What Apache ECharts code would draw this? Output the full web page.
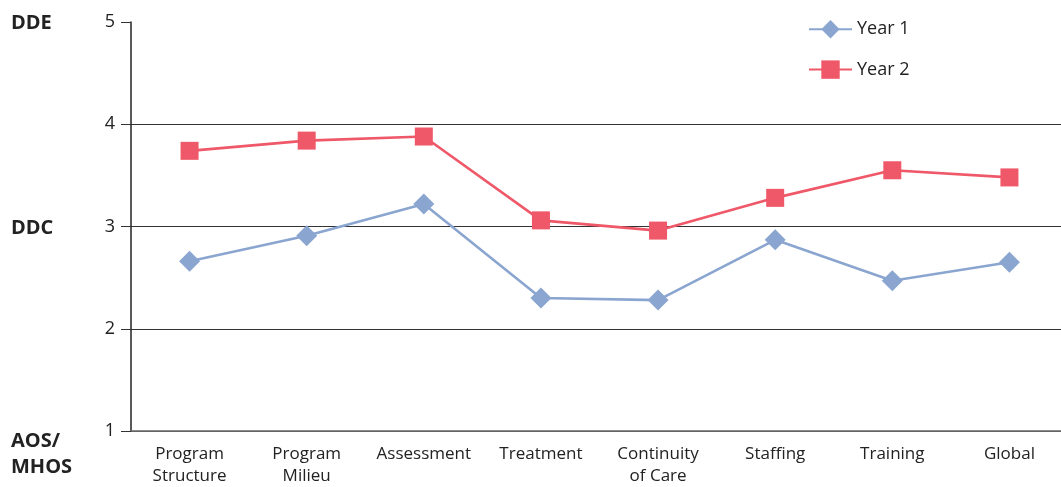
<!DOCTYPE html>
<html>
<head>
<meta charset="utf-8">
<script src="https://cdn.jsdelivr.net/npm/echarts@6/dist/echarts.min.js"></script>
<style>
  html, body { margin: 0; padding: 0; background: #fff; overflow: hidden; }
  #chart { width: 1070px; height: 487px; }
</style>
</head>
<body>
<div id="chart"></div>
<script>
var categories = ['Program\nStructure', 'Program\nMilieu', 'Assessment', 'Treatment', 'Continuity\nof Care', 'Staffing', 'Training', 'Global'];
var year1 = [2.66, 2.91, 3.22, 2.30, 2.28, 2.87, 2.47, 2.65];
var year2 = [3.74, 3.84, 3.88, 3.06, 2.96, 3.28, 3.55, 3.48];
var levelLabels = { 5: 'DDE', 3: 'DDC', 1: 'AOS/\nMHOS' };

var myChart = echarts.init(document.getElementById('chart'), null, { renderer: 'canvas' });
var font = '"Open Sans", "Noto Sans", sans-serif';

var option = {
    animation: false,
    textStyle: { fontFamily: font },
    grid: { left: 131, top: 22, bottom: 54, width: 937 },
    legend: {
        orient: 'vertical',
        left: 803,
        top: 15,
        itemWidth: 43,
        itemHeight: 23,
        itemGap: 17,
        textStyle: { fontSize: 18, color: '#222', fontFamily: font },
        data: ['Year 1', 'Year 2']
    },
    xAxis: {
        type: 'category',
        data: categories,
        axisLine: { lineStyle: { color: '#666', width: 1.5 } },
        axisTick: { length: 10, lineStyle: { color: '#666' } },
        axisLabel: { color: '#222', fontSize: 17, lineHeight: 22, margin: 12, interval: 0, fontFamily: font },
        splitLine: { show: false }
    },
    yAxis: [
        {
            type: 'value',
            min: 1,
            max: 5,
            interval: 1,
            axisLine: { show: true, lineStyle: { color: '#222', width: 1.5 } },
            axisTick: { show: true, length: 10, lineStyle: { color: '#333' } },
            axisLabel: { color: '#222', fontSize: 18, margin: 16, fontFamily: font },
            splitLine: {
                show: true,
                lineStyle: { color: ['#666', '#333', '#333', '#333', 'rgba(0,0,0,0)'], width: 1.2 }
            }
        },
        {
            type: 'value',
            min: 1,
            max: 5,
            interval: 1,
            position: 'left',
            axisLine: { show: false },
            axisTick: { show: false },
            splitLine: { show: false },
            axisLabel: {
                align: 'left',
                margin: 120,
                formatter: function (v) {
                    if (v === 1) return '{low|' + levelLabels[v] + '}';
                    return levelLabels[v] ? '{b|' + levelLabels[v] + '}' : '';
                },
                rich: {
                    b: { fontSize: 20, fontWeight: 'bold', color: '#222', fontFamily: font, padding: [3, 0, 0, 0] },
                    low: { fontSize: 20, fontWeight: 'bold', color: '#222', lineHeight: 26, padding: [46, 0, 0, 0], fontFamily: font }
                }
            }
        }
    ],
    series: [
        {
            name: 'Year 1',
            type: 'line',
            data: year1,
            symbol: 'diamond',
            symbolSize: 21,
            itemStyle: { color: '#8aa5cf' },
            lineStyle: { color: '#8aa5cf', width: 2.6 }
        },
        {
            name: 'Year 2',
            type: 'line',
            data: year2,
            symbol: 'rect',
            symbolSize: 18,
            itemStyle: { color: '#ef5868' },
            lineStyle: { color: '#ef5868', width: 2.6 }
        }
    ]
};

option.legend.itemGap = 17 + 5;
myChart.setOption(option);
</script>
</body>
</html>
